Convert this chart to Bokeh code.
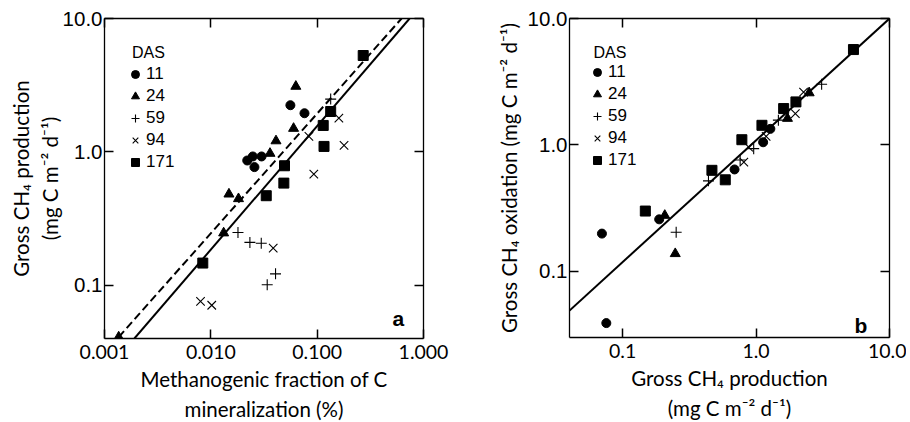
from bokeh.plotting import figure
from bokeh.layouts import row
from bokeh.models import Range1d, LogAxis, FixedTicker, Legend, LegendItem, Label, Title
from bokeh.embed import file_html
from bokeh.resources import INLINE

# ---------------- data: panel a ----------------
a_x_ticks = [0.001, 0.01, 0.1, 1.0]
a_x_labels = ["0.001", "0.010", "0.100", "1.000"]
a_y_ticks = [0.1, 1.0, 10.0]
a_y_labels = ["0.1", "1.0", "10.0"]

a11_x = [0.022, 0.0248, 0.0257, 0.030, 0.056, 0.076]
a11_y = [0.863, 0.925, 0.77, 0.925, 2.24, 1.95]
a24_x = [0.063, 0.060, 0.041, 0.036, 0.0148, 0.0182, 0.0132, 0.00136]
a24_y = [3.1, 1.5, 1.21, 0.975, 0.483, 0.446, 0.247, 0.041]
a59_x = [0.134, 0.018, 0.0233, 0.0298, 0.0406, 0.0339]
a59_y = [2.49, 0.249, 0.21, 0.207, 0.122, 0.101]
a94_x = [0.16, 0.179, 0.0836, 0.093, 0.0386, 0.008, 0.0102]
a94_y = [1.79, 1.12, 1.31, 0.682, 0.19, 0.076, 0.071]
a171_x = [0.271, 0.134, 0.114, 0.116, 0.0493, 0.0486, 0.0332, 0.0084]
a171_y = [5.28, 2.01, 1.58, 1.1, 0.788, 0.584, 0.47, 0.147]

a_fit_solid_x = [0.00191, 0.74]
a_fit_solid_y = [0.04, 10.0]
a_fit_dash_x = [0.00136, 0.622]
a_fit_dash_y = [0.041, 10.0]

a_xtitle = ["Methanogenic fraction of C", "mineralization (%)"]
a_ytitle = ["Gross CH\u2084 production", "(mg C m\u207b\u00b2 d\u207b\u00b9)"]

# ---------------- data: panel b ----------------
b_x_ticks = [0.1, 1.0, 10.0]
b_x_labels = ["0.1", "1.0", "10.0"]
b_y_ticks = [0.1, 1.0, 10.0]
b_y_labels = ["0.1", "1.0", "10.0"]

b11_x = [1.28, 1.13, 0.69, 0.188, 0.070, 0.0755]
b11_y = [1.34, 1.05, 0.64, 0.258, 0.199, 0.039]
b24_x = [2.5, 1.72, 0.207, 0.248]
b24_y = [2.58, 1.62, 0.277, 0.138]
b59_x = [3.1, 1.47, 0.96, 0.76, 0.44, 0.252]
b59_y = [3.02, 1.57, 0.935, 0.76, 0.52, 0.204]
b94_x = [2.27, 1.97, 1.19, 0.88, 0.81]
b94_y = [2.62, 1.77, 1.17, 0.96, 0.73]
b171_x = [5.37, 1.99, 1.61, 1.107, 0.783, 0.467, 0.588, 0.148]
b171_y = [5.68, 2.19, 1.94, 1.43, 1.10, 0.63, 0.53, 0.30]

b_fit_x = [0.04, 10.0]
b_fit_y = [0.049, 10.0]

b_xtitle = ["Gross CH\u2084 production", "(mg C m\u207b\u00b2 d\u207b\u00b9)"]
b_ytitle = "Gross CH\u2084 oxidation (mg C m\u207b\u00b2 d\u207b\u00b9)"

das_title = "DAS"
das_labels = ["11", "24", "59", "94", "171"]

ARIAL = "Liberation Sans"
CALIBRI = "Lato"
TITLE_SIZE = "20.5px"


def style_axes(p, xt, xl, yt, yl):
    p.grid.visible = False
    p.outline_line_color = None
    xax = p.xaxis[0]
    yax = p.yaxis[0]
    xax.ticker = FixedTicker(ticks=xt)
    xax.major_label_overrides = dict(zip(xt, xl))
    xax.major_label_text_font = CALIBRI
    xax.major_label_text_font_size = "19.5px"
    xax.major_label_standoff = 6
    yax.ticker = FixedTicker(ticks=yt)
    yax.major_label_overrides = dict(zip(yt, yl))
    yax.major_label_text_font = ARIAL
    yax.major_label_text_font_size = "20.5px"
    yax.major_label_standoff = 2
    for ax in (xax, yax):
        ax.major_label_text_color = "black"
        ax.major_tick_in = 9
        ax.major_tick_out = 0
        ax.minor_tick_line_color = None
        ax.axis_line_color = "black"
        ax.axis_line_width = 1.3
        ax.major_tick_line_color = "black"
        ax.major_tick_line_width = 1.5
    for loc, t in (("above", xt), ("right", yt)):
        ax = LogAxis(ticker=FixedTicker(ticks=t), major_tick_in=9, major_tick_out=0,
                     minor_tick_line_color=None, major_label_text_font_size="1px",
                     major_label_text_color=None, major_tick_line_color="black",
                     major_label_standoff=0, axis_line_color="black", axis_line_width=1.3,
                     major_tick_line_width=1.5)
        p.add_layout(ax, loc)


def add_points(p, sets):
    rs = []
    specs = [("circle", 9), ("triangle", 10), ("cross", 11), ("x", 12), ("square", 10)]
    for (xs, ys), (m, s) in zip(sets, specs):
        if m in ("cross", "x"):
            r = p.scatter(xs, ys, marker=m, size=s, line_color="black", line_width=1.1)
        else:
            r = p.scatter(xs, ys, marker=m, size=s, fill_color="black", line_color="black")
        rs.append(r)
    return rs


def add_legend(p, rs, vx, vy):
    items = [LegendItem(label=l, renderers=[r]) for l, r in zip(das_labels, rs)]
    leg = Legend(items=items, location=(vx, vy), padding=0, spacing=2, glyph_width=22,
                 glyph_height=20, label_height=20, label_standoff=0, margin=0,
                 border_line_color=None, background_fill_alpha=0,
                 label_text_font=ARIAL, label_text_font_size="17px", label_text_color="black")
    p.add_layout(leg)


def inner_text(p, x, y, s, font, size, style="normal"):
    p.add_layout(Label(x=x, y=y, x_units="screen", y_units="screen", text=s,
                       text_font=font, text_font_size=size, text_align="left",
                       text_baseline="alphabetic", text_color="black",
                       text_font_style=style))


def side_title(p, s, side, standoff):
    p.add_layout(Title(text=s, align="center", text_font=CALIBRI, text_font_size=TITLE_SIZE,
                       text_font_style="normal", text_color="black", standoff=standoff), side)


# ---------------- panel a ----------------
pa = figure(x_axis_type="log", y_axis_type="log",
            x_range=Range1d(0.001, 1.0), y_range=Range1d(0.04, 10.0),
            frame_width=319, frame_height=320,
            min_border_left=104, min_border_right=32, min_border_top=17, min_border_bottom=84,
            output_backend="svg", toolbar_location=None)
style_axes(pa, a_x_ticks, a_x_labels, a_y_ticks, a_y_labels)

pa.line(a_fit_solid_x, a_fit_solid_y, line_color="black", line_width=2)
pa.line(a_fit_dash_x, a_fit_dash_y, line_color="black", line_width=2, line_dash="8 4")
ra = add_points(pa, [(a11_x, a11_y), (a24_x, a24_y), (a59_x, a59_y), (a94_x, a94_y), (a171_x, a171_y)])
add_legend(pa, ra, 20, 166)
inner_text(pa, 27.4, 286.3, das_title, ARIAL, "16px")
inner_text(pa, 288, 20.3, "a", ARIAL, "21px", "bold")
side_title(pa, a_xtitle[0], "below", 7)
side_title(pa, a_xtitle[1], "below", 0)
side_title(pa, a_ytitle[1], "left", -4)
side_title(pa, a_ytitle[0], "left", 9)

# ---------------- panel b ----------------
pb = figure(x_axis_type="log", y_axis_type="log",
            x_range=Range1d(0.04, 10.0), y_range=Range1d(0.03, 10.0),
            frame_width=320, frame_height=319,
            min_border_left=114, min_border_right=17, min_border_top=18, min_border_bottom=84,
            output_backend="svg", toolbar_location=None)
style_axes(pb, b_x_ticks, b_x_labels, b_y_ticks, b_y_labels)

pb.line(b_fit_x, b_fit_y, line_color="black", line_width=2)
rb = add_points(pb, [(b11_x, b11_y), (b24_x, b24_y), (b59_x, b59_y), (b94_x, b94_y), (b171_x, b171_y)])
add_legend(pb, rb, 17, 167)
inner_text(pb, 24, 285, das_title, ARIAL, "16px")
inner_text(pb, 285, 12, "b", ARIAL, "21px", "bold")
side_title(pb, b_xtitle[0], "below", 7)
side_title(pb, b_xtitle[1], "below", 0)
side_title(pb, b_ytitle, "left", 7)

layout = row(pa, pb)
open("out.html", "w").write(file_html(layout, INLINE))
